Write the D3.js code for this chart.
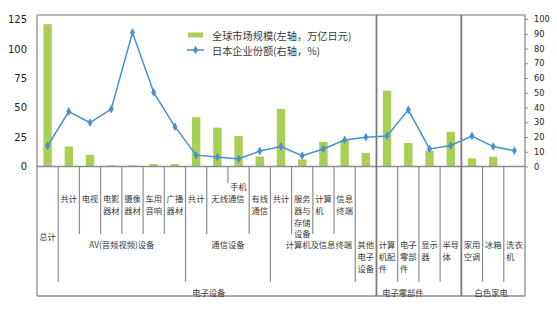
<!DOCTYPE html>
<html><head><meta charset="utf-8">
<script src="https://cdn.jsdelivr.net/npm/d3@7/dist/d3.min.js"></script>
<style>
html,body{margin:0;padding:0;background:#fff;}
svg{display:block;}
</style></head>
<body><svg id="c" width="557" height="326"></svg>
<script>
// ---- data ----
const categories = ["总计","AV共计","电视","电影器材","摄像器材","车用音响","广播器材",
  "通信共计","无线通信","手机","有线通信",
  "计算机共计","服务器与存储设备","计算机","信息终端","其他电子设备",
  "计算机配件","电子零部件","显示器","半导体","家用空调","冰箱","洗衣机"];
const marketSize = [121,17,10,1,1,2,2, 42,33,26,8.5, 49,6,21,22.5,11.5, 64.5,20,13.5,29.5,7,8.3,0];
const japanShare = [14,37.3,29.8,38.9,90.8,50.2,27, 7.7,6.5,5.1,10.5, 13.5,7.3,11.9,18,19.9, 20.7,38.4,11.9,14.2,20.7,13.5,10.7];
const leftTicks = [0,25,50,75,100,125];
const rightTicks = [0,10,20,30,40,50,60,70,80,90,100];
const seriesNames = ["全球市场规模(左轴，万亿日元)","日本企业份额(右轴，%)"];
// category label text lines and row (0: upper sub row, 1: item row, 2: lower row, 3: middle)
const catLines = [["总计"],["共计"],["电视"],["电影","器材"],["摄像","器材"],["车用","音响"],["广播","器材"],
  ["共计"],["无线通信"],["手机"],["有线","通信"],
  ["共计"],["服务","器与","存储","设备"],["计算","机"],["信息","终端"],["其他","电子","设备"],
  ["计算","机配","件"],["电子","零部","件"],["显示","器"],["半导","体"],["家用","空调"],["冰箱"],["洗衣","机"]];
const catRow = [3,1,1,1,1,1,1, 1,1,0,1, 1,1,1,1,2, 2,2,2,2,2,2,2];
const catSpanEnd = [0,1,2,3,4,5,6, 7,9,9,10, 11,12,13,14,15, 16,17,18,19,20,21,22];
const subGroups = [{name:"AV(音频视频)设备",from:1,to:6},{name:"通信设备",from:7,to:10},{name:"计算机及信息终端",from:11,to:14}];
const topGroups = [{name:"电子设备",from:0,to:15},{name:"电子零部件",from:16,to:19},{name:"白色家电",from:20,to:22}];

// ---- layout ----
const L = 37, R = 525, T = 15, Y0 = 166.5, B = 296;
const svg = d3.select("#c");
const cjk = "'Noto Sans CJK SC','Noto Sans',sans-serif";
const green = "#aacf55", blue = "#4a8fd0", txt = "#3a3a3a", lineC = "#8c8c8c";

const x = d3.scaleBand().domain(d3.range(categories.length)).range([L, R]).padding(0);
const yL = d3.scaleLinear().domain([0,125]).range([Y0, 19.5]);
const yR = d3.scaleLinear().domain([0,100]).range([Y0, 19]);
const bw = x.bandwidth();
const edge = i => x(i);           // left edge of category i
const cx = i => x(i) + bw/2;

// bars
svg.append("g").selectAll("rect").data(marketSize).join("rect")
  .attr("x",(d,i)=>cx(i)-4.2).attr("width",8.4)
  .attr("y",d=>yL(d)).attr("height",d=>Y0-yL(d)).attr("fill",green);

// frame
const fr = svg.append("g").attr("stroke",lineC).attr("fill","none");
fr.append("line").attr("x1",L).attr("x2",R).attr("y1",T).attr("y2",T).attr("stroke","#a0a0a0").attr("stroke-width",1.5);
fr.append("line").attr("x1",L).attr("x2",R).attr("y1",Y0).attr("y2",Y0).attr("stroke-width",1.3);
fr.append("line").attr("x1",L).attr("x2",R).attr("y1",B).attr("y2",B).attr("stroke-width",1.3);
fr.append("line").attr("x1",L).attr("x2",L).attr("y1",T).attr("y2",B).attr("stroke-width",1.3);
fr.append("line").attr("x1",R).attr("x2",R).attr("y1",T).attr("y2",B).attr("stroke-width",1.3);

// dividers between categories
const longB = [1,7,11,15,17,18,19,21,22];
const shortB = [2,3,4,5,6,8,10,12,13,14];
const thickB = [16,20];
longB.forEach(k=>fr.append("line").attr("x1",edge(k)).attr("x2",edge(k)).attr("y1",Y0).attr("y2",281.7).attr("stroke-width",1.2));
shortB.forEach(k=>fr.append("line").attr("x1",edge(k)).attr("x2",edge(k)).attr("y1",Y0).attr("y2",234).attr("stroke-width",1.2));
fr.append("line").attr("x1",edge(9)).attr("x2",edge(9)).attr("y1",Y0).attr("y2",183).attr("stroke-width",1.2);
thickB.forEach(k=>fr.append("line").attr("x1",edge(k)).attr("x2",edge(k)).attr("y1",T).attr("y2",B).attr("stroke","#7a7a7a").attr("stroke-width",1.8));

// line series
const line = d3.line().x((d,i)=>cx(i)).y(d=>yR(d));
svg.append("path").datum(japanShare).attr("d",line).attr("fill","none").attr("stroke",blue).attr("stroke-width",1.5);
const diamond = d3.symbol().type(d3.symbolDiamond).size(22);
svg.append("g").selectAll("path").data(japanShare).join("path")
  .attr("transform",(d,i)=>`translate(${cx(i)},${yR(d)})`).attr("d",diamond).attr("fill",blue);

// axes
const gl = svg.append("g").attr("transform",`translate(${L},0)`)
  .call(d3.axisLeft(yL).tickValues(leftTicks).tickSize(0).tickPadding(10));
gl.select(".domain").remove();
gl.selectAll("text").attr("font-family","'DejaVu Sans',sans-serif").attr("font-size",10).attr("fill","#222");
const gr = svg.append("g").attr("transform",`translate(${R},0)`)
  .call(d3.axisRight(yR).tickValues(rightTicks).tickSize(3).tickPadding(6));
gr.select(".domain").remove();
gr.selectAll("line").attr("stroke",lineC);
gr.selectAll("text").attr("font-family","'DejaVu Sans',sans-serif").attr("font-size",8.2).attr("fill","#222");

// category labels
const fs = 8.3, lh = 11.7;
const rowY = [186, 198.3, 244.3, 236];
const cl = svg.append("g").attr("font-family",cjk).attr("font-size",fs).attr("fill",txt);
catLines.forEach((lines,i)=>{
  const c = (edge(i) + edge(catSpanEnd[i]) + bw)/2;
  const w = d3.max(lines, s=>s.length)*fs;
  const t = cl.append("text").attr("x",c-w/2).attr("y",rowY[catRow[i]]).attr("dominant-baseline","central");
  lines.forEach((s,j)=>t.append("tspan").attr("x",c-w/2).attr("y",rowY[catRow[i]]+j*lh).text(s));
});
const subNudge = {"计算机及信息终端":6};
subGroups.forEach(g=>{
  const c = (edge(g.from)+edge(g.to)+bw)/2 + (subNudge[g.name]||0);
  cl.append("text").attr("x",c).attr("y",244.3).attr("text-anchor","middle").attr("dominant-baseline","central").text(g.name);
});
const topNudge = {"电子设备":2,"电子零部件":-16,"白色家电":-2};
topGroups.forEach(g=>{
  const c = (edge(g.from)+edge(g.to)+bw)/2 + (topNudge[g.name]||0);
  cl.append("text").attr("x",c).attr("y",291.5).attr("text-anchor","middle").attr("dominant-baseline","central").text(g.name);
});

// legend
const lg = svg.append("g").attr("font-family",cjk).attr("font-size",10.2).attr("fill",txt);
lg.append("rect").attr("x",188).attr("y",32.5).attr("width",15).attr("height",5).attr("fill",green);
lg.append("text").attr("x",212).attr("y",35).attr("dominant-baseline","central").text(seriesNames[0]);
lg.append("line").attr("x1",187).attr("x2",204).attr("y1",50).attr("y2",50).attr("stroke",blue).attr("stroke-width",1.5);
lg.append("path").attr("transform","translate(195.5,50)").attr("d",diamond).attr("fill",blue);
lg.append("text").attr("x",212).attr("y",50).attr("dominant-baseline","central").text(seriesNames[1]);
</script></body></html>
